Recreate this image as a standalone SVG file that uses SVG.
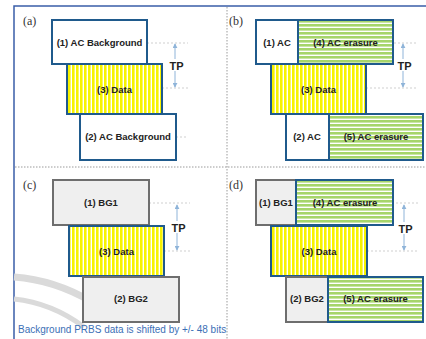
<svg xmlns="http://www.w3.org/2000/svg" width="426" height="339" viewBox="0 0 426 339">
<defs>
<pattern id="yel" width="4" height="4" patternUnits="userSpaceOnUse"><rect width="4" height="4" fill="#f7f300"/><rect x="2.6" width="1.4" height="4" fill="#ffffff"/></pattern>
<pattern id="grn" width="4" height="4" patternUnits="userSpaceOnUse"><rect width="4" height="4" fill="#a6d56a"/><rect y="2.6" width="4" height="1.4" fill="#ffffff"/></pattern>
<marker id="ah" viewBox="0 0 6 6" refX="5" refY="3" markerWidth="5" markerHeight="5" orient="auto-start-reverse"><path d="M0,0 L6,3 L0,6 z" fill="#8fb4d9"/></marker>
<style>
.bx{stroke:#1f5a8c;stroke-width:2}
.wh{fill:#ffffff}
.gr{fill:#efefef;stroke:#6e6e6e;stroke-width:2}
.y{fill:url(#yel)}
.g{fill:url(#grn)}
.t{font-family:"Liberation Sans",Arial,sans-serif;font-weight:bold;font-size:9.5px;fill:#222;text-anchor:middle}
.tp{font-family:"Liberation Sans",Arial,sans-serif;font-weight:bold;font-size:11px;fill:#222}
.lb{font-family:"Liberation Serif","Times New Roman",serif;font-size:12px;fill:#333}
.dv{stroke:#9a9a9a;stroke-width:1;stroke-dasharray:1.5 1.5;fill:none}
.gd{stroke:#cfcfcf;stroke-width:1;stroke-dasharray:2 2;fill:none}
.ar{stroke:#8fb4d9;stroke-width:1;marker-start:url(#ah);marker-end:url(#ah)}
</style>
</defs>
<rect width="426" height="339" fill="#ffffff"/>
<path d="M14,339 V6 H426" fill="none" stroke="#3a5ea8" stroke-width="1.5"/>
<g id="dividers">
<line class="dv" x1="227" y1="7" x2="227" y2="339"/>
<line class="dv" x1="15" y1="167" x2="426" y2="167"/>
</g>
<g id="swoosh">
<path d="M14,277 Q55,280 92,302" fill="none" stroke="#dadada" stroke-width="7"/>
<path d="M14,299 Q52,303 84,327" fill="none" stroke="#dadada" stroke-width="5"/>
</g>
<g id="connectors">
<path class="gd" d="M147,43 H188 M162,88 H188 M176,137 H188"/>
<path class="gd" d="M298,43 H418 M366,88 H418 M307,137 H330"/>
<path class="gd" d="M149,203 H190 M164,251 H190"/>
<path class="gd" d="M296,203 H418 M367,251 H418 M307,298 H330"/>
<line class="ar" x1="175" y1="44" x2="175" y2="87"/>
<line class="ar" x1="403" y1="44" x2="403" y2="87"/>
<line class="ar" x1="177" y1="205" x2="177" y2="250"/>
<line class="ar" x1="404" y1="205" x2="404" y2="250"/>
</g>
<g id="panel-a">
<text class="lb" x="23" y="25">(a)</text>
<g id="a1"><rect class="bx wh" x="52" y="20" width="95" height="44"/><text class="t" x="99.5" y="46">(1) AC Background</text></g>
<g id="a3"><rect class="bx y" x="67" y="64" width="95" height="50"/><text class="t" x="114.5" y="93">(3) Data</text></g>
<g id="a2"><rect class="bx wh" x="80" y="114" width="96" height="46"/><text class="t" x="128" y="140">(2) AC Background</text></g>
<g id="a-tp"><rect x="169" y="59" width="15" height="12" fill="#fff"/><text class="tp" x="169.5" y="69.5">TP</text></g>
</g>
<g id="panel-b">
<text class="lb" x="229" y="25">(b)</text>
<g id="b1"><rect class="bx wh" x="256" y="20" width="42" height="44"/><rect class="bx g" x="298" y="20" width="95" height="44"/><text class="t" x="277" y="46">(1) AC</text><text class="t" x="345.5" y="46">(4) AC erasure</text></g>
<g id="b3"><rect class="bx y" x="271" y="64" width="95" height="50"/><text class="t" x="318.5" y="93">(3) Data</text></g>
<g id="b2"><rect class="bx wh" x="286" y="114" width="43" height="46"/><rect class="bx g" x="329" y="114" width="94" height="46"/><text class="t" x="307" y="140">(2) AC</text><text class="t" x="376" y="140">(5) AC erasure</text></g>
<g id="b-tp"><rect x="397" y="59" width="15" height="12" fill="#fff"/><text class="tp" x="397.5" y="69.5">TP</text></g>
</g>
<g id="panel-c">
<text class="lb" x="23" y="189">(c)</text>
<g id="c1"><rect class="gr" x="53" y="180" width="96" height="45"/><text class="t" x="101" y="206">(1) BG1</text></g>
<g id="c3"><rect class="bx y" x="69" y="226" width="95" height="50"/><text class="t" x="116.5" y="255">(3) Data</text></g>
<g id="c2"><rect class="gr" x="83" y="277" width="96" height="45"/><text class="t" x="131" y="302">(2) BG2</text></g>
<g id="c-tp"><rect x="171" y="221" width="15" height="12" fill="#fff"/><text class="tp" x="171.5" y="231.5">TP</text></g>
</g>
<g id="panel-d">
<text class="lb" x="229" y="189">(d)</text>
<g id="d1"><rect class="gr" x="256" y="180" width="40" height="45"/><rect class="bx g" x="296" y="180" width="97" height="45"/><text class="t" x="276" y="206">(1) BG1</text><text class="t" x="345" y="206">(4) AC erasure</text></g>
<g id="d3"><rect class="bx y" x="271" y="226" width="96" height="50"/><text class="t" x="319" y="255">(3) Data</text></g>
<g id="d2"><rect class="gr" x="286" y="277" width="42" height="45"/><rect class="bx g" x="328" y="277" width="95" height="45"/><text class="t" x="307" y="302">(2) BG2</text><text class="t" x="375.5" y="302">(5) AC erasure</text></g>
<g id="d-tp"><rect x="398" y="222" width="15" height="12" fill="#fff"/><text class="tp" x="398.5" y="232.5">TP</text></g>
</g>
<text x="18" y="333" font-family="'Liberation Sans',Arial,sans-serif" font-size="10px" fill="#3b6fb6">Background PRBS data is shifted by +/- 48 bits</text>
</svg>
